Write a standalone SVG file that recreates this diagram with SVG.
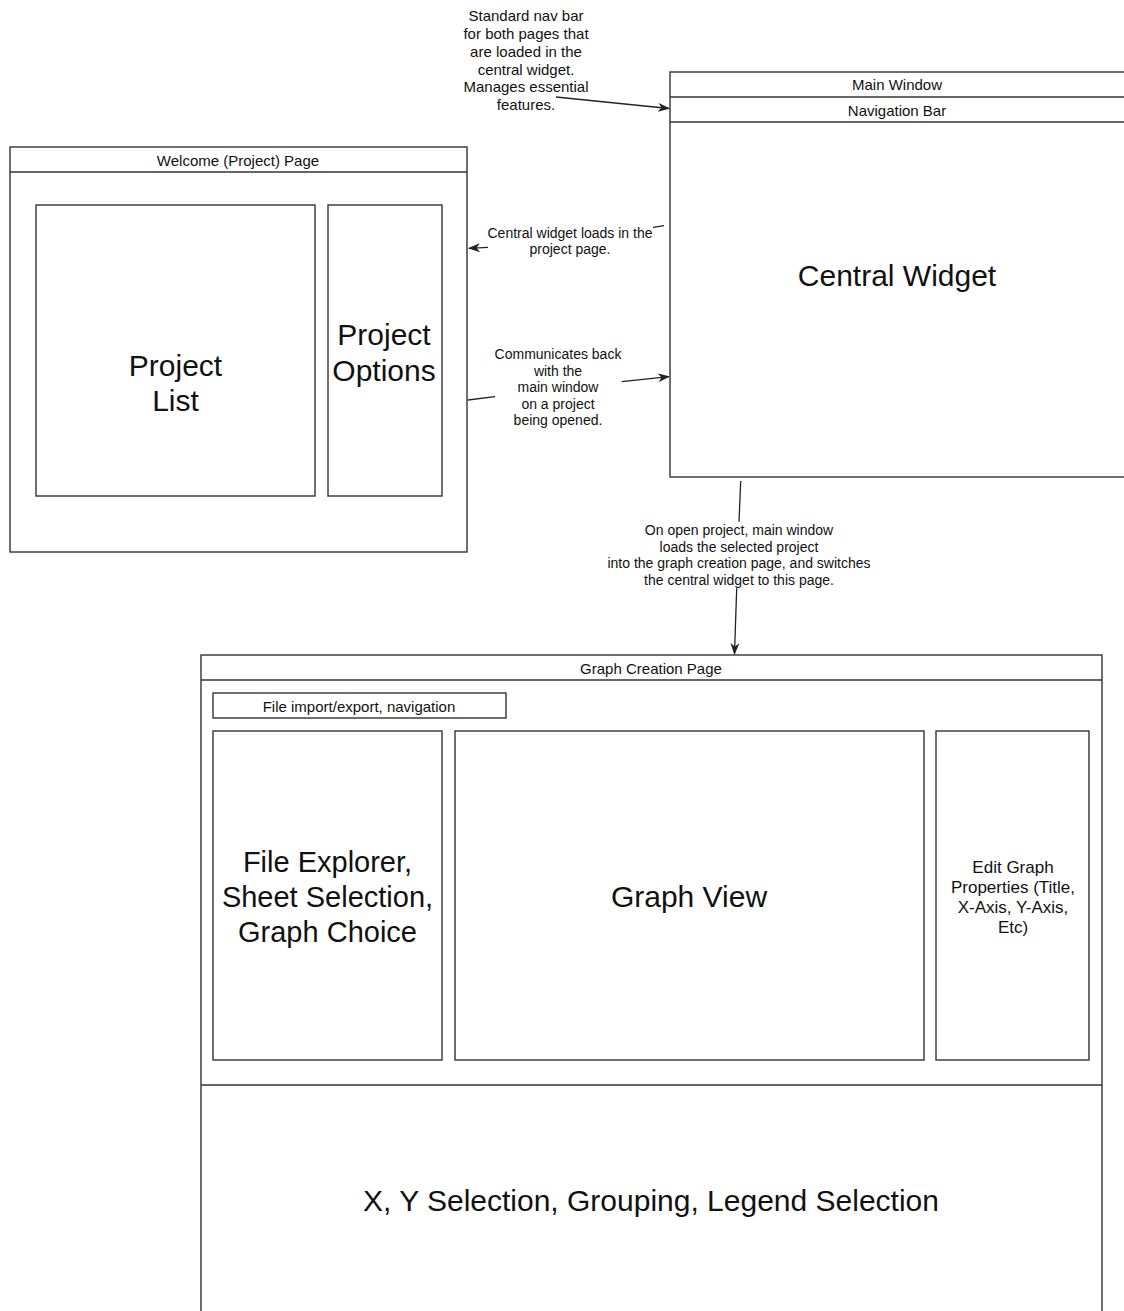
<svg xmlns="http://www.w3.org/2000/svg" width="1124" height="1311" viewBox="0 0 1124 1311">
<style>
.box{fill:#fff;stroke:#333;stroke-width:1.4}
.ln{fill:none;stroke:#333;stroke-width:1.4}
.edge{fill:none;stroke:#222;stroke-width:1.3}
text{font-family:"Liberation Sans",Arial,sans-serif;fill:#111;text-anchor:middle;dominant-baseline:central}
.h{font-size:15px}
.s{font-size:14px}
.big{font-size:30px}
.md{font-size:17px}
</style>
<defs>
<marker id="arr" viewBox="0 0 12 10" refX="11" refY="5" markerWidth="12" markerHeight="10" markerUnits="userSpaceOnUse" orient="auto">
<path d="M0,0.5 L12,5 L0,9.5 L3.5,5 Z" fill="#222"/>
</marker>
</defs>
<rect width="1124" height="1311" fill="#fff"/>

<g id="main-window">
<rect class="box" x="670" y="72" width="470" height="405"/>
<line class="ln" x1="670" y1="97" x2="1140" y2="97"/>
<line class="ln" x1="670" y1="122" x2="1140" y2="122"/>
<text class="h" x="897" y="84">Main Window</text>
<text class="h" x="897" y="110">Navigation Bar</text>
<text class="big" x="897" y="275">Central Widget</text>
</g>

<g id="welcome-page">
<rect class="box" x="10" y="147" width="457" height="405"/>
<line class="ln" x1="10" y1="172" x2="467" y2="172"/>
<text class="h" x="238" y="160">Welcome (Project) Page</text>
</g>
<g id="project-list">
<rect class="box" x="36" y="205" width="279" height="291"/>
<text class="big" x="175.5" y="365">Project</text>
<text class="big" x="175.5" y="400">List</text>
</g>
<g id="project-options">
<rect class="box" x="328" y="205" width="114" height="291"/>
<text class="big" x="384" y="334">Project</text>
<text class="big" x="384" y="370">Options</text>
</g>

<g id="graph-creation-page">
<rect class="box" x="201" y="655" width="901" height="680"/>
<line class="ln" x1="201" y1="680" x2="1102" y2="680"/>
<line class="ln" x1="201" y1="1085" x2="1102" y2="1085"/>
<text class="h" x="651" y="668">Graph Creation Page</text>
<text class="big" x="651" y="1200">X, Y Selection, Grouping, Legend Selection</text>
</g>
<g id="file-import-export">
<rect class="box" x="213" y="693" width="293" height="25"/>
<text class="h" x="359" y="706">File import/export, navigation</text>
</g>
<g id="file-explorer">
<rect class="box" x="213" y="731" width="229" height="329"/>
<text class="big" x="327.5" y="862" style="font-size:29px">File Explorer,</text>
<text class="big" x="327.5" y="897" style="font-size:29px">Sheet Selection,</text>
<text class="big" x="327.5" y="932" style="font-size:29px">Graph Choice</text>
</g>
<g id="graph-view">
<rect class="box" x="455" y="731" width="469" height="329"/>
<text class="big" x="689" y="896">Graph View</text>
</g>
<g id="edit-graph-properties">
<rect class="box" x="936" y="731" width="153" height="329"/>
<text class="md" x="1013" y="867">Edit Graph</text>
<text class="md" x="1013" y="887">Properties (Title,</text>
<text class="md" x="1013" y="907">X-Axis, Y-Axis,</text>
<text class="md" x="1013" y="927">Etc)</text>
</g>

<g id="connectors">
<line class="edge" x1="556" y1="97" x2="669" y2="108.5" marker-end="url(#arr)"/>
<line class="edge" x1="664" y1="225.7" x2="653" y2="227.3"/>
<line class="edge" x1="488" y1="247.3" x2="469" y2="248.3" marker-end="url(#arr)"/>
<line class="edge" x1="468" y1="400" x2="495" y2="396.7"/>
<line class="edge" x1="621.7" y1="381.7" x2="669" y2="376.7" marker-end="url(#arr)"/>
<line class="edge" x1="740.7" y1="481" x2="739" y2="521.7"/>
<line class="edge" x1="736.7" y1="588.3" x2="734.5" y2="654" marker-end="url(#arr)"/>
</g>

<g id="labels">
<text style="font-size:15px" x="526" y="15">Standard nav bar</text>
<text style="font-size:15px" x="526" y="33">for both pages that</text>
<text style="font-size:15px" x="526" y="51">are loaded in the</text>
<text style="font-size:15px" x="526" y="69">central widget.</text>
<text style="font-size:15px" x="526" y="86">Manages essential</text>
<text style="font-size:15px" x="526" y="104">features.</text>

<text class="s" x="570" y="232.7">Central widget loads in the</text>
<text class="s" x="570" y="249.3">project page.</text>

<text class="s" x="558" y="354">Communicates back</text>
<text class="s" x="558" y="370.7">with the</text>
<text class="s" x="558" y="387">main window</text>
<text class="s" x="558" y="403.5">on a project</text>
<text class="s" x="558" y="420">being opened.</text>

<text class="s" x="739" y="530">On open project, main window</text>
<text class="s" x="739" y="546.7">loads the selected project</text>
<text class="s" x="739" y="563.3">into the graph creation page, and switches</text>
<text class="s" x="739" y="580">the central widget to this page.</text>
</g>
</svg>
